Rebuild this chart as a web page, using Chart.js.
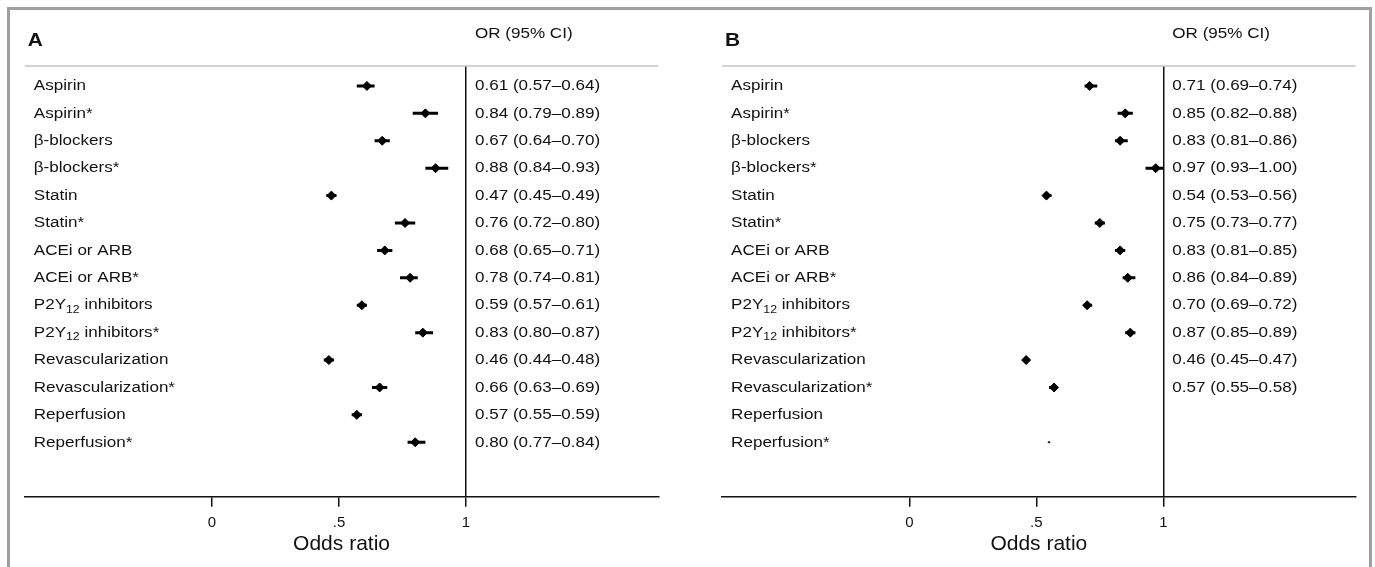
<!DOCTYPE html>
<html><head><meta charset="utf-8">
<script src="https://cdn.jsdelivr.net/npm/chart.js@4.4.1/dist/chart.umd.min.js"></script>
<style>
html,body{margin:0;padding:0;background:#fff;width:1375px;height:567px;overflow:hidden;}
#frame{position:absolute;left:7px;top:7px;width:1365px;height:600px;box-sizing:border-box;border:3px solid #a0a0a0;border-bottom:none;}
.wrap{position:absolute;top:0;height:567px;}
#wa{left:0;width:688px;}
#wb{left:688px;width:687px;}
canvas{display:block;}
</style></head><body>
<div id="frame"></div>
<div class="wrap" id="wa"><canvas id="ca"></canvas></div>
<div class="wrap" id="wb"><canvas id="cb"></canvas></div>
<script>
// ---- data ----
const categories = ['Aspirin','Aspirin*','β-blockers','β-blockers*','Statin','Statin*','ACEi or ARB','ACEi or ARB*','P2Y₁₂ inhibitors','P2Y₁₂ inhibitors*','Revascularization','Revascularization*','Reperfusion','Reperfusion*'];
const orA = [0.61,0.84,0.67,0.88,0.47,0.76,0.68,0.78,0.59,0.83,0.46,0.66,0.57,0.80];
const loA = [0.57,0.79,0.64,0.84,0.45,0.72,0.65,0.74,0.57,0.80,0.44,0.63,0.55,0.77];
const hiA = [0.64,0.89,0.70,0.93,0.49,0.80,0.71,0.81,0.61,0.87,0.48,0.69,0.59,0.84];
const orB = [0.71,0.85,0.83,0.97,0.54,0.75,0.83,0.86,0.70,0.87,0.46,0.57,null,0.55];
const loB = [0.69,0.82,0.81,0.93,0.53,0.73,0.81,0.84,0.69,0.85,0.45,0.55,null,null];
const hiB = [0.74,0.88,0.86,1.00,0.56,0.77,0.85,0.89,0.72,0.89,0.47,0.58,null,null];
const xTicks = [0, 0.5, 1];
const xTickLabels = ['0', '.5', '1'];
const panelLetters = ['A', 'B'];
const headerText = 'OR (95% CI)';
const axisTitle = 'Odds ratio';

const FAM = '"Liberation Sans", Arial, Helvetica, sans-serif';
const SUB = '₀₁₂₃₄₅₆₇₈₉';
const SX = 1.1;

function drawRich(ctx, str, x, y, size) {
  ctx.save();
  ctx.translate(x, y);
  ctx.scale(SX, 1);
  let cx = 0;
  let i = 0;
  while (i < str.length) {
    let j = i;
    const isSub = SUB.indexOf(str[i]) >= 0;
    while (j < str.length && (SUB.indexOf(str[j]) >= 0) === isSub) j++;
    let part = str.slice(i, j);
    if (isSub) {
      part = part.split('').map(c => String(SUB.indexOf(c))).join('');
      ctx.font = (size * 0.72) + 'px ' + FAM;
      ctx.fillText(part, cx, size * 0.3);
    } else {
      ctx.font = size + 'px ' + FAM;
      ctx.fillText(part, cx, 0);
    }
    cx += ctx.measureText(part).width;
    i = j;
  }
  ctx.restore();
}

const textPlugin = {
  id: 'forestText',
  beforeDatasetsDraw(chart) {
    const {ctx, chartArea: a} = chart;
    ctx.save();
    ctx.strokeStyle = '#c4c4c4';
    ctx.lineWidth = 1.5;
    ctx.beginPath(); ctx.moveTo(a.left, a.top); ctx.lineTo(a.right, a.top); ctx.stroke();
    ctx.restore();
  },
  afterDraw(chart, args, opts) {
    const {ctx, chartArea: a, scales: {x, y}} = chart;
    const x1 = x.getPixelForValue(1);
    ctx.save();
    ctx.fillStyle = '#111';
    ctx.textBaseline = 'middle';
    ctx.textAlign = 'left';
    ctx.save();
    ctx.translate(a.left + 3, a.top - 25);
    ctx.scale(SX, 1);
    ctx.font = 'bold 19px ' + FAM;
    ctx.fillText(opts.letter, 0, 0);
    ctx.restore();
    drawRich(ctx, headerText, x1 + 9, a.top - 32, 15.5);
    categories.forEach((c, i) => {
      const yp = y.getPixelForValue(i);
      drawRich(ctx, c, a.left + 9, yp, 15.5);
      if (opts.lo[i] != null && opts.hi[i] != null && opts.or[i] != null) {
        drawRich(ctx, opts.or[i].toFixed(2) + ' (' + opts.lo[i].toFixed(2) + '–' + opts.hi[i].toFixed(2) + ')', x1 + 9, yp, 15.5);
      }
    });
    ctx.restore();
  }
};

function makeChart(id, letter, ors, los, his, padL, padR) {
  const ciSets = categories.map((c, i) => ({
    data: (los[i] != null && his[i] != null) ? [{x: los[i], y: i}, {x: his[i], y: i}] : [],
    showLine: true, borderColor: '#000', borderWidth: 3, pointRadius: 0, borderCapStyle: 'butt'
  }));
  const pts = [];
  const radii = [];
  ors.forEach((v, i) => {
    if (v == null) return;
    pts.push({x: v, y: i});
    radii.push(los[i] != null ? 4.5 : 0.9);
  });
  const pointSet = {
    data: pts, showLine: false, pointStyle: 'rectRot', pointRadius: radii,
    backgroundColor: '#000', borderColor: '#000', borderWidth: 1
  };
  return new Chart(document.getElementById(id), {
    type: 'scatter',
    data: {datasets: [...ciSets, pointSet]},
    plugins: [textPlugin],
    options: {
      responsive: true, maintainAspectRatio: false, animation: false,
      layout: {padding: {left: padL, right: padR, top: 66, bottom: 10}},
      plugins: {legend: {display: false}, tooltip: {enabled: false},
        forestText: {letter: letter, or: ors, lo: los, hi: his}},
      scales: {
        x: {
          type: 'linear', min: -0.737, max: 1.757,
          afterBuildTicks: s => { s.ticks = xTicks.map(v => ({value: v})); },
          ticks: {callback: (v, idx) => xTickLabels[idx], font: {size: 15, family: FAM}, color: '#111', padding: 7, maxRotation: 0, autoSkip: false},
          grid: {color: c => (c.tick && c.tick.value === 1) ? '#111' : 'rgba(0,0,0,0)', lineWidth: 1.5, tickColor: '#111', tickLength: 10, tickWidth: 1.5, drawOnChartArea: true},
          border: {display: true, color: '#111', width: 1.5},
          title: {display: true, text: axisTitle, font: {size: 21, family: FAM}, color: '#111', padding: {top: -7, bottom: 0}}
        },
        y: {type: 'linear', display: false, min: -0.728, max: 14.99, reverse: true}
      }
    }
  });
}

makeChart('ca', panelLetters[0], orA, loA, hiA, 24.8, 29.7);
makeChart('cb', panelLetters[1], orB, loB, hiB, 34.1, 19.4);
</script>
</body></html>
